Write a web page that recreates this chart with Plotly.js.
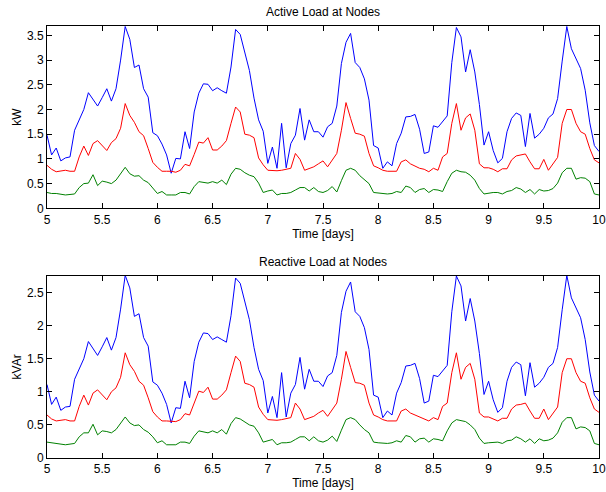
<!DOCTYPE html>
<html>
<head>
<meta charset="utf-8">
<script src="https://cdn.plot.ly/plotly-3.0.1.min.js"></script>
<style>html,body{margin:0;padding:0;background:#fff;}#chart{width:606px;height:492px;}</style>
</head>
<body>
<div id="chart"></div>
<script>
// Time axis: hourly samples from day 5 to day 10
var timeStart = 5;
var timeStep = 1 / 24;

// Active load (kW) at three nodes
var activeNode1 = [
  1.48,1.08,1.22,0.96,1.02,1.04,1.58,1.79,2.00,2.34,2.21,2.07,
  2.24,2.42,2.17,2.42,3.00,3.68,3.42,2.85,2.90,2.42,2.25,1.53,
  1.47,1.30,1.08,0.71,1.01,1.00,1.55,1.21,1.95,2.33,2.52,2.51,
  2.38,2.44,2.38,2.33,2.86,3.62,3.52,3.15,2.79,2.23,1.79,1.56,
  0.91,1.24,0.81,1.72,0.82,1.31,1.48,2.02,1.38,1.79,1.55,1.55,
  1.44,1.65,1.72,2.07,2.93,3.36,3.54,2.95,2.85,2.62,2.19,1.27,
  1.22,0.81,0.94,0.86,1.31,1.52,1.85,1.86,1.90,1.60,1.11,1.14,
  1.67,1.64,1.75,1.87,2.95,3.66,3.47,2.76,3.21,2.76,2.10,1.28,
  1.55,1.17,0.92,1.01,1.55,1.82,1.93,1.88,1.25,1.92,1.42,1.50,
  1.62,1.83,1.91,2.22,2.98,3.68,3.23,3.02,2.83,2.39,1.73,1.27,
  1.15
];
var activeNode2 = [
  0.87,0.79,0.74,0.76,0.77,0.75,0.75,1.04,1.26,1.07,1.31,1.37,
  1.27,1.17,1.33,1.41,1.62,2.12,1.88,1.74,1.55,1.47,1.21,0.93,
  0.83,0.75,0.75,0.75,0.73,0.77,0.89,0.86,1.09,1.34,1.32,1.43,
  1.18,1.18,1.26,1.37,1.72,2.05,1.95,1.50,1.48,1.43,1.02,0.88,
  0.77,0.76,0.76,0.77,0.79,0.81,1.11,0.99,0.77,0.81,0.84,0.90,
  0.96,0.84,0.98,1.11,1.58,2.14,1.82,1.52,1.50,1.46,1.11,0.86,
  0.82,0.77,0.75,0.75,0.75,0.94,0.98,0.90,0.86,0.81,0.79,0.74,
  0.81,0.77,1.04,1.11,1.72,2.12,1.58,1.83,1.91,1.58,0.90,0.82,
  0.82,0.79,0.74,0.80,0.80,0.98,1.06,1.08,1.10,0.94,0.80,0.80,
  0.99,0.77,0.91,1.03,1.72,2.00,2.00,1.72,1.55,1.50,1.21,0.98,
  0.92
];
var activeNode3 = [
  0.32,0.30,0.30,0.29,0.27,0.28,0.29,0.42,0.50,0.51,0.68,0.46,
  0.55,0.53,0.50,0.57,0.69,0.83,0.70,0.65,0.66,0.57,0.52,0.42,
  0.30,0.34,0.27,0.27,0.27,0.32,0.32,0.29,0.44,0.54,0.53,0.51,
  0.54,0.51,0.57,0.48,0.69,0.81,0.79,0.72,0.67,0.64,0.51,0.32,
  0.35,0.37,0.27,0.30,0.30,0.32,0.37,0.42,0.42,0.35,0.42,0.34,
  0.32,0.36,0.44,0.33,0.56,0.77,0.81,0.77,0.66,0.57,0.50,0.32,
  0.31,0.29,0.29,0.30,0.34,0.32,0.45,0.42,0.32,0.38,0.40,0.32,
  0.38,0.37,0.34,0.54,0.71,0.77,0.74,0.73,0.67,0.57,0.40,0.29,
  0.31,0.32,0.32,0.29,0.34,0.36,0.42,0.39,0.32,0.38,0.29,0.38,
  0.35,0.36,0.40,0.51,0.72,0.81,0.81,0.59,0.62,0.61,0.54,0.29,
  0.27
];

// Reactive load (kVAr) at three nodes
var reactiveNode1 = [
  1.11,0.81,0.92,0.72,0.77,0.78,1.19,1.34,1.50,1.76,1.66,1.55,
  1.68,1.82,1.63,1.82,2.25,2.76,2.57,2.14,2.18,1.82,1.69,1.15,
  1.10,0.98,0.81,0.53,0.76,0.75,1.16,0.91,1.46,1.75,1.89,1.88,
  1.79,1.83,1.79,1.75,2.15,2.72,2.64,2.36,2.09,1.67,1.34,1.17,
  0.68,0.93,0.61,1.29,0.62,0.98,1.11,1.52,1.04,1.34,1.16,1.16,
  1.08,1.24,1.29,1.55,2.20,2.52,2.66,2.21,2.14,1.97,1.64,0.95,
  0.92,0.61,0.71,0.65,0.98,1.14,1.39,1.40,1.43,1.20,0.83,0.86,
  1.25,1.23,1.31,1.40,2.21,2.75,2.60,2.07,2.41,2.07,1.58,0.96,
  1.16,0.88,0.69,0.76,1.16,1.37,1.45,1.41,0.94,1.44,1.07,1.13,
  1.22,1.37,1.43,1.67,2.24,2.76,2.42,2.27,2.12,1.79,1.30,0.95,
  0.86
];
var reactiveNode2 = [
  0.65,0.59,0.56,0.57,0.58,0.56,0.56,0.78,0.95,0.80,0.98,1.03,
  0.95,0.88,1.00,1.06,1.22,1.59,1.41,1.31,1.16,1.10,0.91,0.70,
  0.62,0.56,0.56,0.56,0.55,0.58,0.67,0.65,0.82,1.01,0.99,1.07,
  0.89,0.89,0.95,1.03,1.29,1.54,1.46,1.13,1.11,1.07,0.77,0.66,
  0.58,0.57,0.57,0.58,0.59,0.61,0.83,0.74,0.58,0.61,0.63,0.68,
  0.72,0.63,0.74,0.83,1.19,1.61,1.37,1.14,1.13,1.10,0.83,0.65,
  0.62,0.58,0.56,0.56,0.56,0.71,0.74,0.68,0.65,0.61,0.59,0.56,
  0.61,0.58,0.78,0.83,1.29,1.59,1.19,1.37,1.43,1.19,0.68,0.62,
  0.62,0.59,0.56,0.60,0.60,0.74,0.80,0.81,0.83,0.71,0.60,0.60,
  0.74,0.58,0.68,0.77,1.29,1.50,1.50,1.29,1.16,1.13,0.91,0.74,
  0.69
];
var reactiveNode3 = [
  0.24,0.23,0.23,0.22,0.20,0.21,0.22,0.32,0.38,0.38,0.51,0.35,
  0.41,0.40,0.38,0.43,0.52,0.62,0.53,0.49,0.50,0.43,0.39,0.32,
  0.23,0.26,0.20,0.20,0.20,0.24,0.24,0.22,0.33,0.41,0.40,0.38,
  0.41,0.38,0.43,0.36,0.52,0.61,0.59,0.54,0.50,0.48,0.38,0.24,
  0.26,0.28,0.20,0.23,0.23,0.24,0.28,0.32,0.32,0.26,0.32,0.26,
  0.24,0.27,0.33,0.25,0.42,0.58,0.61,0.58,0.50,0.43,0.38,0.24,
  0.23,0.22,0.22,0.23,0.26,0.24,0.34,0.32,0.24,0.29,0.30,0.24,
  0.29,0.28,0.26,0.41,0.53,0.58,0.56,0.55,0.50,0.43,0.30,0.22,
  0.23,0.24,0.24,0.22,0.26,0.27,0.32,0.29,0.24,0.29,0.22,0.29,
  0.26,0.27,0.30,0.38,0.54,0.61,0.61,0.44,0.47,0.46,0.41,0.22,
  0.20
];

var titles = ["Active Load at Nodes", "Reactive Load at Nodes"];
var yLabels = ["kW", "kVAr"];
var xLabel = "Time [days]";
var lineColors = ["#0000ff", "#ff0000", "#008000"];

function tr(y, color, xa, ya) {
  return {type: "scatter", mode: "lines", x0: timeStart, dx: timeStep, y: y,
          xaxis: xa, yaxis: ya, line: {color: color, width: 1}, hoverinfo: "skip"};
}

var data = [
  tr(activeNode1, lineColors[0], "x", "y"),
  tr(activeNode2, lineColors[1], "x", "y"),
  tr(activeNode3, lineColors[2], "x", "y"),
  tr(reactiveNode1, lineColors[0], "x2", "y2"),
  tr(reactiveNode2, lineColors[1], "x2", "y2"),
  tr(reactiveNode3, lineColors[2], "x2", "y2")
];

var font = {family: "Liberation Sans, Arial, sans-serif", size: 12, color: "#000"};

function xax(anchor) {
  return {anchor: anchor, domain: [0, 1], range: [5, 10], dtick: 0.5, tick0: 5,
          showline: true, mirror: "ticks", linecolor: "#000", linewidth: 1,
          ticks: "inside", ticklen: 5, tickcolor: "#000", showgrid: false, zeroline: false,
          tickfont: font, title: {text: xLabel, font: font, standoff: 2}};
}
function yax(anchor, dom, top, dt, label) {
  return {anchor: anchor, domain: dom, range: [0, top], dtick: dt, tick0: 0,
          showline: true, mirror: "ticks", linecolor: "#000", linewidth: 1,
          ticks: "inside", ticklen: 5, tickcolor: "#000", showgrid: false, zeroline: false,
          tickfont: font, title: {text: label, font: font, standoff: 2}};
}

var layout = {
  width: 606, height: 492,
  margin: {l: 47, r: 7, t: 26, b: 34},
  paper_bgcolor: "#fff", plot_bgcolor: "#fff",
  showlegend: false,
  font: font,
  xaxis: xax("y"),
  yaxis: yax("x", [0.578, 1], 3.69, 0.5, yLabels[0]),
  xaxis2: xax("y2"),
  yaxis2: yax("x2", [0, 0.422], 2.755, 0.5, yLabels[1]),
  annotations: [
    {text: titles[0], xref: "paper", yref: "paper", x: 0.5, y: 1, yshift: 14,
     showarrow: false, font: font, xanchor: "center", yanchor: "middle"},
    {text: titles[1], xref: "paper", yref: "paper", x: 0.5, y: 0.422, yshift: 14,
     showarrow: false, font: font, xanchor: "center", yanchor: "middle"}
  ]
};

Plotly.newPlot("chart", data, layout, {staticPlot: true, displayModeBar: false});
</script>
</body>
</html>
